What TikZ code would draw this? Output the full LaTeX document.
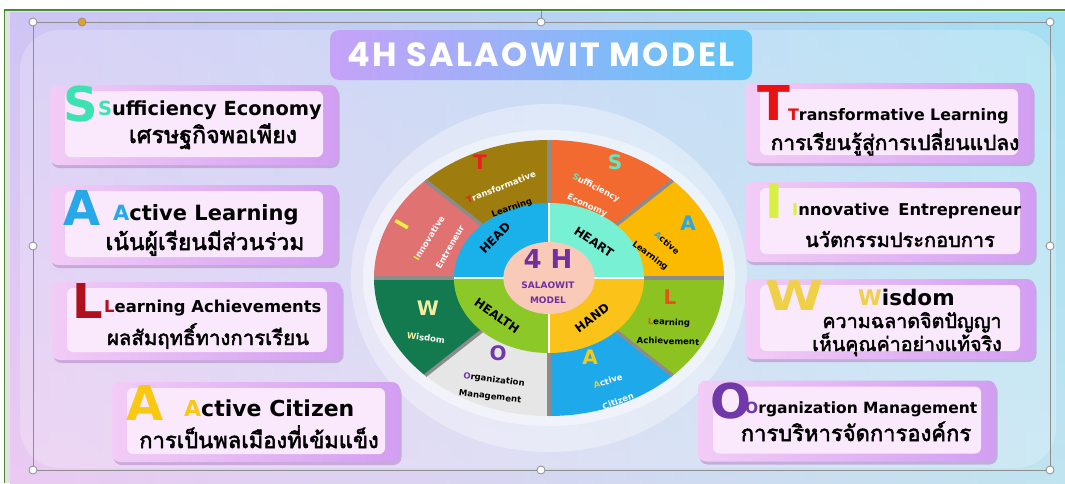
\documentclass[tikz,border=0pt]{standalone}
\usepackage{fontspec}
\setmainfont{DejaVu Sans}
\newfontfamily\thaifont[Script=Thai, FakeBold=2.2]{Loma}
\newfontfamily\titlefont[LetterSpace=7]{Poppins}
\usetikzlibrary{shadows}
\definecolor{bgL}{HTML}{E4C6F2}
\definecolor{bgR}{HTML}{A2EEF0}
\definecolor{bgT}{HTML}{A8C4F8}
\definecolor{bgB}{HTML}{FAD2F2}
\definecolor{frameG}{HTML}{4C8A32}
\definecolor{stripG}{HTML}{E2E2E2}
\definecolor{hgray}{HTML}{8E8E8E}
\definecolor{hor}{HTML}{E8A024}
\definecolor{boxL}{HTML}{F2CCF6}
\definecolor{boxR}{HTML}{D29EF2}
\definecolor{boxIn}{HTML}{FAE8FC}
\definecolor{shad}{HTML}{B48CC8}
\definecolor{ttlL}{HTML}{C6A2F8}
\definecolor{ttlR}{HTML}{5EC6F8}
\definecolor{lS}{HTML}{3EE2B2}
\definecolor{lAb}{HTML}{28A8E8}
\definecolor{lL}{HTML}{B0101C}
\definecolor{lAy}{HTML}{F8C812}
\definecolor{lT}{HTML}{E81212}
\definecolor{lI}{HTML}{D8F040}
\definecolor{lW}{HTML}{F0D048}
\definecolor{lO}{HTML}{7038A8}
\definecolor{cT}{HTML}{9E7C0E}
\definecolor{cS}{HTML}{F26A30}
\definecolor{cAy}{HTML}{FBB900}
\definecolor{cL}{HTML}{8CC320}
\definecolor{cAb}{HTML}{1EAAEA}
\definecolor{cO}{HTML}{E6E6E6}
\definecolor{cW}{HTML}{127A4E}
\definecolor{cI}{HTML}{E07272}
\definecolor{rHead}{HTML}{1AB0EA}
\definecolor{rHeart}{HTML}{78F0D4}
\definecolor{rHand}{HTML}{FBC21A}
\definecolor{rHealth}{HTML}{8CC828}
\definecolor{cMid}{HTML}{F9CAB8}
\definecolor{sepG}{HTML}{8C8C8C}
\definecolor{wS}{HTML}{60E8C0}
\definecolor{wT}{HTML}{E82020}
\definecolor{wI}{HTML}{E8F040}
\definecolor{wW}{HTML}{F4ECA0}
\definecolor{wL}{HTML}{E8501C}
\definecolor{mPur}{HTML}{7030A0}
\begin{document}
\begin{tikzpicture}[x=1pt,y=-1pt,
  boxo/.style={rounded corners=8pt, left color=boxL, right color=boxR, draw=none,
    drop shadow={shadow xshift=1.5pt, shadow yshift=-3pt, fill=shad, opacity=0.6}},
  boxi/.style={rounded corners=6pt, fill=boxIn, draw=none},
  en/.style={font=\bfseries\fontsize{#1}{#1}\selectfont, inner sep=0pt, anchor=base west},
  th/.style={font=\thaifont\fontsize{#1}{#1}\selectfont, inner sep=0pt, anchor=base},
  big/.style={font=\bfseries\fontsize{48}{48}\selectfont, inner sep=0pt, anchor=base west},
  handle/.style={circle, draw=hgray, fill=white, line width=0.8pt, minimum size=8pt, inner sep=0pt},
  selline/.style={draw=hgray, line width=0.7pt},
  wt/.style={font=\bfseries\fontsize{8.5}{10}\selectfont, inner sep=0pt},
  wbig/.style={font=\bfseries\fontsize{20}{20}\selectfont, inner sep=0pt},
  ringt/.style={font=\bfseries\fontsize{12}{12}\selectfont, inner sep=0pt},
  sep/.style={draw=sepG, line width=3.5pt},
]
\useasboundingbox (0,0) rectangle (1065,483);
\fill[white] (0,0) rectangle (1065,483);
% frame
\fill[stripG] (5,10) rectangle (1065,483);
\shade[left color=bgL, right color=bgR] (10,12) rectangle (1065,483);
\shade[top color=bgT, bottom color=bgB, opacity=0.35] (10,12) rectangle (1065,483);
\fill[white, opacity=0.22, rounded corners=40pt] (20,30) rectangle (1056,468);
\draw[frameG, line width=1.6pt] (4.5,483) -- (4.5,10) -- (1065,10);

% halo around wheel
\fill[white, opacity=0.35] (549,278) ellipse [x radius=198, y radius=174];
\fill[white, opacity=0.45] (549,278) ellipse [x radius=186, y radius=148];

% wheel
\begin{scope}[shift={(549,278)}, x=1.268pt, y=1pt]
  \fill[cS] (0,0) -- (45:138) arc[start angle=45, end angle=90, radius=138] -- cycle;
  \fill[cT] (0,0) -- (90:138) arc[start angle=90, end angle=135, radius=138] -- cycle;
  \fill[cI] (0,0) -- (135:138) arc[start angle=135, end angle=180, radius=138] -- cycle;
  \fill[cW] (0,0) -- (180:138) arc[start angle=180, end angle=225, radius=138] -- cycle;
  \fill[cO] (0,0) -- (225:138) arc[start angle=225, end angle=270, radius=138] -- cycle;
  \fill[cAb] (0,0) -- (270:138) arc[start angle=270, end angle=315, radius=138] -- cycle;
  \fill[cL] (0,0) -- (315:138) arc[start angle=315, end angle=360, radius=138] -- cycle;
  \fill[cAy] (0,0) -- (0:138) arc[start angle=0, end angle=45, radius=138] -- cycle;
  \foreach \a in {0,45,...,315} \draw[sep] (\a:74) -- (\a:138);
  \fill[rHeart] (0,0) -- (0:75) arc[start angle=0, end angle=90, radius=75] -- cycle;
  \fill[rHead] (0,0) -- (90:75) arc[start angle=90, end angle=180, radius=75] -- cycle;
  \fill[rHealth] (0,0) -- (180:75) arc[start angle=180, end angle=270, radius=75] -- cycle;
  \fill[rHand] (0,0) -- (270:75) arc[start angle=270, end angle=360, radius=75] -- cycle;
  \foreach \a in {0,90,180,270} \draw[white, line width=1.6pt] (\a:35) -- (\a:75);
  \fill[cMid] (0,0) circle[radius=36];
\end{scope}

% center text
\node[font=\bfseries\fontsize{26}{26}\selectfont, text=mPur, inner sep=0pt] (c4h) at (548,259) {4 H};
\node[font=\bfseries\fontsize{9}{9}\selectfont, text=mPur, inner sep=0pt] (csal) at (548,285) {SALAOWIT};
\node[font=\bfseries\fontsize{9}{9}\selectfont, text=mPur, inner sep=0pt] (cmod) at (548,300) {MODEL};

% ring labels
\node[ringt, rotate=45] (rhead) at (495,238) {HEAD};
\node[ringt, rotate=-34] (rheart) at (594,242) {HEART};
\node[ringt, rotate=-35] (rhealth) at (497,316) {HEALTH};
\node[ringt, rotate=37] (rhand) at (592,318) {HAND};

% segment S
\node[wbig, text=wS] (sS) at (615,162) {S};
\node[wt, text=white, rotate=-27] (sS1) at (596,188) {{\color{wS}S}ufficiency};
\node[wt, text=white, rotate=-25] (sS2) at (587,206) {Economy};
% segment A yellow
\node[wbig, text=lAb] (sAy) at (688,223) {A};
\node[wt, rotate=-41] (sAy1) at (667,243) {{\color{lAb}A}ctive};
\node[wt, rotate=-37] (sAy2) at (650,256) {Learning};
% segment T
\node[wbig, text=wT] (sT) at (480,162) {T};
\node[wt, text=white, rotate=21] (sT1) at (501,187) {{\color{wT}T}ransformative};
\node[wt, rotate=20] (sT2) at (512,208) {Learning};
% segment I
\node[wbig, text=wI, rotate=60] (sI) at (402,225) {I};
\node[wt, text=white, rotate=58] (sI1) at (429,238) {{\color{wI}I}nnovative};
\node[wt, text=white, rotate=60] (sI2) at (450,247) {Entreneur};
% segment W
\node[wbig, text=wW] (sW) at (428,308) {W};
\node[wt, text=white, rotate=-8] (sW1) at (426,338) {{\color{wW}W}isdom};
% segment O
\node[wbig, text=lO] (sO) at (498,353) {O};
\node[wt, rotate=-8] (sO1) at (494,380) {{\color{lO}O}rganization};
\node[wt, rotate=-7] (sO2) at (490,397) {Management};
% segment A blue
\node[wbig, text=lAy] (sAb) at (590,357) {A};
\node[wt, text=white, rotate=17] (sAb1) at (608,381) {{\color{lAy}A}ctive};
\node[wt, text=white, rotate=22] (sAb2) at (618,401) {Citizen};
% segment L
\node[wbig, text=wL] (sL) at (670,297) {L};
\node[wt, rotate=-2] (sL1) at (669,323) {{\color{wL}L}earning};
\node[wt, rotate=-2] (sL2) at (668,341) {Achievement};

% title
\node[rounded corners=9pt, left color=ttlL, right color=ttlR, minimum width=422pt, minimum height=50pt,
  text=white, font=\titlefont\bfseries\fontsize{33.5}{33.5}\selectfont] (title) at (541,55) {4H SALAOWIT MODEL};

% left boxes
\node[boxo, minimum width=288pt, minimum height=80pt] (bS) at (194,125) {};
\node[boxi, minimum width=258pt, minimum height=66pt] (bSi) at (194,124) {};
\node[big, text=lS] (bigS) at (63,121) {S};
\node[en=19.4] (tS) at (98,115) {{\color{lS}S}ufficiency Economy};
\node[th=23.2] (thS) at (213,143) {เศรษฐกิจพอเพียง};

\node[boxo, minimum width=288pt, minimum height=80pt] (bA) at (194,225) {};
\node[boxi, minimum width=258pt, minimum height=66pt] (bAi) at (194,224) {};
\node[big, text=lAb] (bigA) at (63,225) {A};
\node[en=21] (tA) at (113,220) {{\color{lAb}A}ctive Learning};
\node[th=22.8] (thA) at (205,250) {เน้นผู้เรียนมีส่วนร่วม};

\node[boxo, minimum width=290pt, minimum height=78pt] (bL) at (197,321) {};
\node[boxi, minimum width=260pt, minimum height=64pt] (bLi) at (197,320) {};
\node[big, text=lL] (bigL) at (72,318) {L};
\node[en=16.4] (tL) at (104,312) {{\color{lL}L}earning Achievements};
\node[th=20.4] (thL) at (208,345) {ผลสัมฤทธิ์ทางการเรียน};

\node[boxo, minimum width=288pt, minimum height=80pt] (bC) at (256,422) {};
\node[boxi, minimum width=258pt, minimum height=66pt] (bCi) at (256,421) {};
\node[big, text=lAy] (bigC) at (126,420) {A};
\node[en=22] (tC) at (184,416) {{\color{lAy}A}ctive Citizen};
\node[th=22] (thC) at (259,448) {การเป็นพลเมืองที่เข้มแข็ง};

% right boxes
\node[boxo, minimum width=288pt, minimum height=80pt] (bT) at (889,123) {};
\node[boxi, minimum width=258pt, minimum height=66pt] (bTi) at (889,122) {};
\node[big, text=lT] (bigT) at (757,120) {T};
\node[en=15.8] (tT) at (788,120) {{\color{lT}T}ransformative Learning};
\node[th=20.8] (thT) at (895,150) {การเรียนรู้สู่การเปลี่ยนแปลง};

\node[boxo, minimum width=290pt, minimum height=80pt] (bI) at (890,222) {};
\node[boxi, minimum width=260pt, minimum height=66pt] (bIi) at (890,221) {};
\node[big, text=lI] (bigI) at (765,218) {I};
\node[en=16.3] (tI) at (792,215) {{\color{lI}I}nnovative\hspace{9pt}Entrepreneur};
\node[th=20] (thI) at (900,247) {นวัตกรรมประกอบการ};

\node[boxo, minimum width=290pt, minimum height=80pt] (bW) at (890,319) {};
\node[boxi, minimum width=260pt, minimum height=66pt] (bWi) at (890,318) {};
\node[big, text=lW, xscale=1.1, yscale=0.85] (bigW) at (765,310) {W};
\node[en=21.5] (tW) at (858,305) {{\color{lW}W}isdom};
\node[th=19.7] (thW1) at (912,328) {ความฉลาดจิตปัญญา};
\node[th=19.6] (thW2) at (907,351) {เห็นคุณค่าอย่างแท้จริง};

\node[boxo, minimum width=298pt, minimum height=81pt] (bO) at (847,421) {};
\node[boxi, minimum width=268pt, minimum height=67pt] (bOi) at (847,420) {};
\node[big, text=lO] (bigO) at (710,418) {O};
\node[en=15.5] (tO) at (745,413) {{\color{lO}O}rganization Management};
\node[th=22] (thO) at (856,441) {การบริหารจัดการองค์กร};

% selection handles
\node[handle] (h1) at (33,22) {};
\node[handle, fill=hor] (h2) at (82,22) {};
\node[handle] (h3) at (541,22) {};
\node[handle] (h4) at (1050,22) {};
\node[handle] (h5) at (1050,246) {};
\node[handle] (h6) at (1050,470) {};
\node[handle] (h7) at (541,470) {};
\node[handle] (h8) at (33,470) {};
\node[handle] (h9) at (33,246) {};
\coordinate (rot) at (541,11);
\draw[selline] (h1) -- (h2) -- (h3) -- (h4) -- (h5) -- (h6) -- (h7) -- (h8) -- (h9) -- (h1);
\draw[selline] (rot) -- (h3);
\end{tikzpicture}
\end{document}
